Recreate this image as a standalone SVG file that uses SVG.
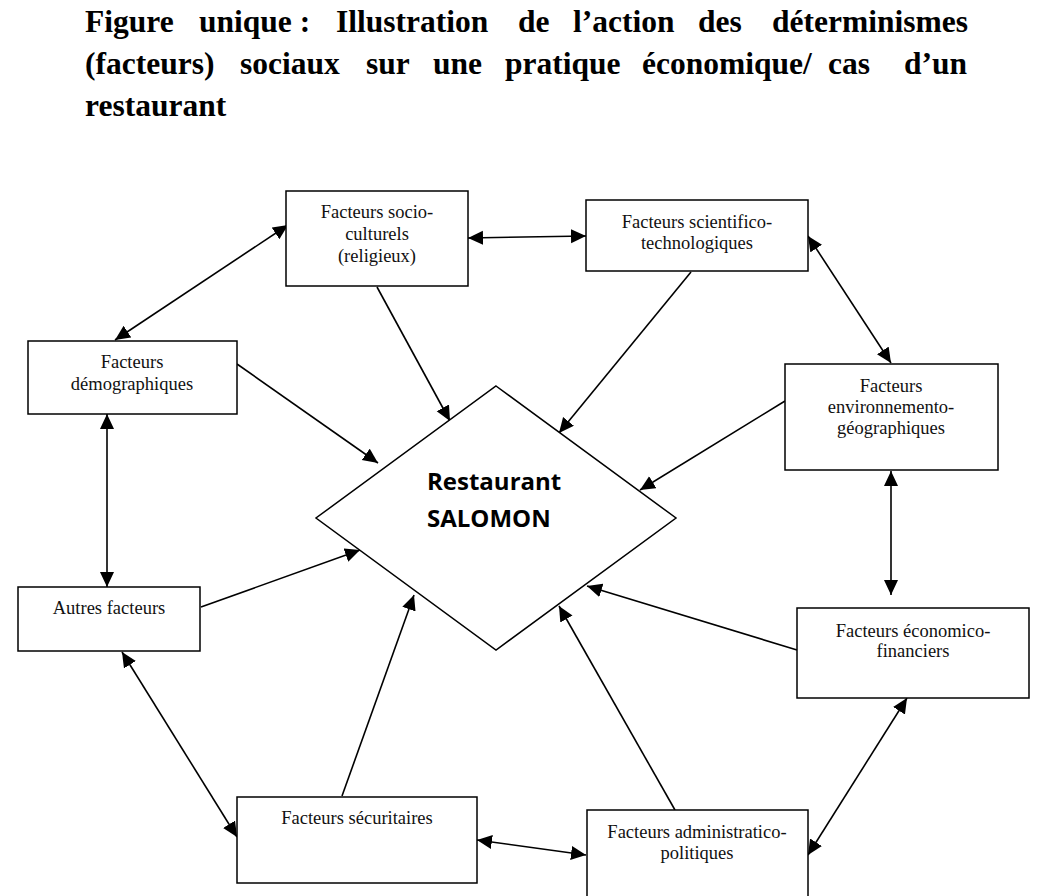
<svg xmlns="http://www.w3.org/2000/svg" width="1045" height="896" viewBox="0 0 1045 896">
<style>
.title{font-family:"Liberation Serif","Times New Roman",serif;font-weight:bold;font-size:31.5px;fill:#000}
.box{fill:#fff;stroke:#000;stroke-width:1.5}
.lbl{font-family:"Liberation Serif","Times New Roman",serif;font-size:18.5px;fill:#111;text-anchor:middle}
.ctr{font-family:"Open Sans","Liberation Sans",sans-serif;font-weight:bold;font-size:24px;fill:#000}
.c line{stroke:#000;stroke-width:1.6;fill:none}
.one{marker-end:url(#ah)}
.two{marker-start:url(#ah);marker-end:url(#ah)}
</style>
<defs>
<marker id="ah" markerUnits="userSpaceOnUse" markerWidth="16" markerHeight="15" refX="15" refY="7" orient="auto-start-reverse">
<path d="M0,0 L15,7 L0,14 z" fill="#000"/>
</marker>
</defs>
<rect width="1045" height="896" fill="#fff"/>
<g id="title" class="title">
<text y="32"><tspan x="85">Figure</tspan><tspan x="199">unique :</tspan><tspan x="336">Illustration</tspan><tspan x="518">de</tspan><tspan x="573">l’action</tspan><tspan x="698">des</tspan></text>
<text x="968" y="32" text-anchor="end">déterminismes</text>
<text y="74"><tspan x="85">(facteurs)</tspan><tspan x="240">sociaux</tspan><tspan x="366">sur</tspan><tspan x="433">une</tspan><tspan x="505">pratique</tspan><tspan x="642">économique/</tspan><tspan x="828">cas</tspan></text>
<text x="967" y="74" text-anchor="end">d’un</text>
<text x="85" y="116">restaurant</text>
</g>
<g id="connectors" class="c">
<line class="two" x1="115" y1="340" x2="288" y2="225"/>
<line class="two" x1="468" y1="238" x2="586" y2="236"/>
<line class="one" x1="377" y1="287" x2="450" y2="421"/>
<line class="one" x1="237" y1="364" x2="378" y2="463"/>
<line class="one" x1="691" y1="272" x2="559" y2="433"/>
<line class="two" x1="808" y1="236" x2="891" y2="363"/>
<line class="one" x1="785" y1="401" x2="640" y2="490"/>
<line class="two" x1="891" y1="471" x2="891" y2="595"/>
<line class="one" x1="797" y1="650" x2="587" y2="586"/>
<line class="one" x1="675" y1="810" x2="559" y2="606"/>
<line class="two" x1="907" y1="698" x2="808" y2="855"/>
<line class="two" x1="477" y1="840" x2="586" y2="855"/>
<line class="one" x1="342" y1="796" x2="414" y2="595"/>
<line class="one" x1="201" y1="607" x2="360" y2="550"/>
<line class="two" x1="107" y1="414" x2="107" y2="587"/>
<line class="two" x1="122" y1="652" x2="237" y2="837"/>
</g>
<g id="restaurant">
<polygon points="496,386 676,518 496,650 316,518" fill="#fff" stroke="#000" stroke-width="1.5"/>
<text class="ctr" x="427" y="490">Restaurant</text>
<text class="ctr" x="427" y="527">SALOMON</text>
</g>
<g id="socio">
<rect class="box" x="286" y="191" width="182" height="95"/>
<text class="lbl" x="377" y="218">Facteurs socio-</text>
<text class="lbl" x="377" y="240">culturels</text>
<text class="lbl" x="377" y="262">(religieux)</text>
</g>
<g id="scientifico">
<rect class="box" x="586" y="200" width="222" height="71"/>
<text class="lbl" x="697" y="228">Facteurs scientifico-</text>
<text class="lbl" x="697" y="249">technologiques</text>
</g>
<g id="demographiques">
<rect class="box" x="28" y="341" width="209" height="73"/>
<text class="lbl" x="132" y="368">Facteurs</text>
<text class="lbl" x="132" y="390">démographiques</text>
</g>
<g id="environnemento">
<rect class="box" x="785" y="364" width="213" height="106"/>
<text class="lbl" x="891" y="392">Facteurs</text>
<text class="lbl" x="891" y="413">environnemento-</text>
<text class="lbl" x="891" y="434">géographiques</text>
</g>
<g id="autres">
<rect class="box" x="18" y="587" width="182" height="64"/>
<text class="lbl" x="109" y="614">Autres facteurs</text>
</g>
<g id="economico">
<rect class="box" x="797" y="608" width="232" height="90"/>
<text class="lbl" x="913" y="637">Facteurs économico-</text>
<text class="lbl" x="913" y="657">financiers</text>
</g>
<g id="securitaires">
<rect class="box" x="237" y="797" width="240" height="86"/>
<text class="lbl" x="357" y="824">Facteurs sécuritaires</text>
</g>
<g id="administratico">
<rect class="box" x="587" y="810" width="221" height="100"/>
<text class="lbl" x="697" y="838">Facteurs administratico-</text>
<text class="lbl" x="697" y="859">politiques</text>
</g>
</svg>
